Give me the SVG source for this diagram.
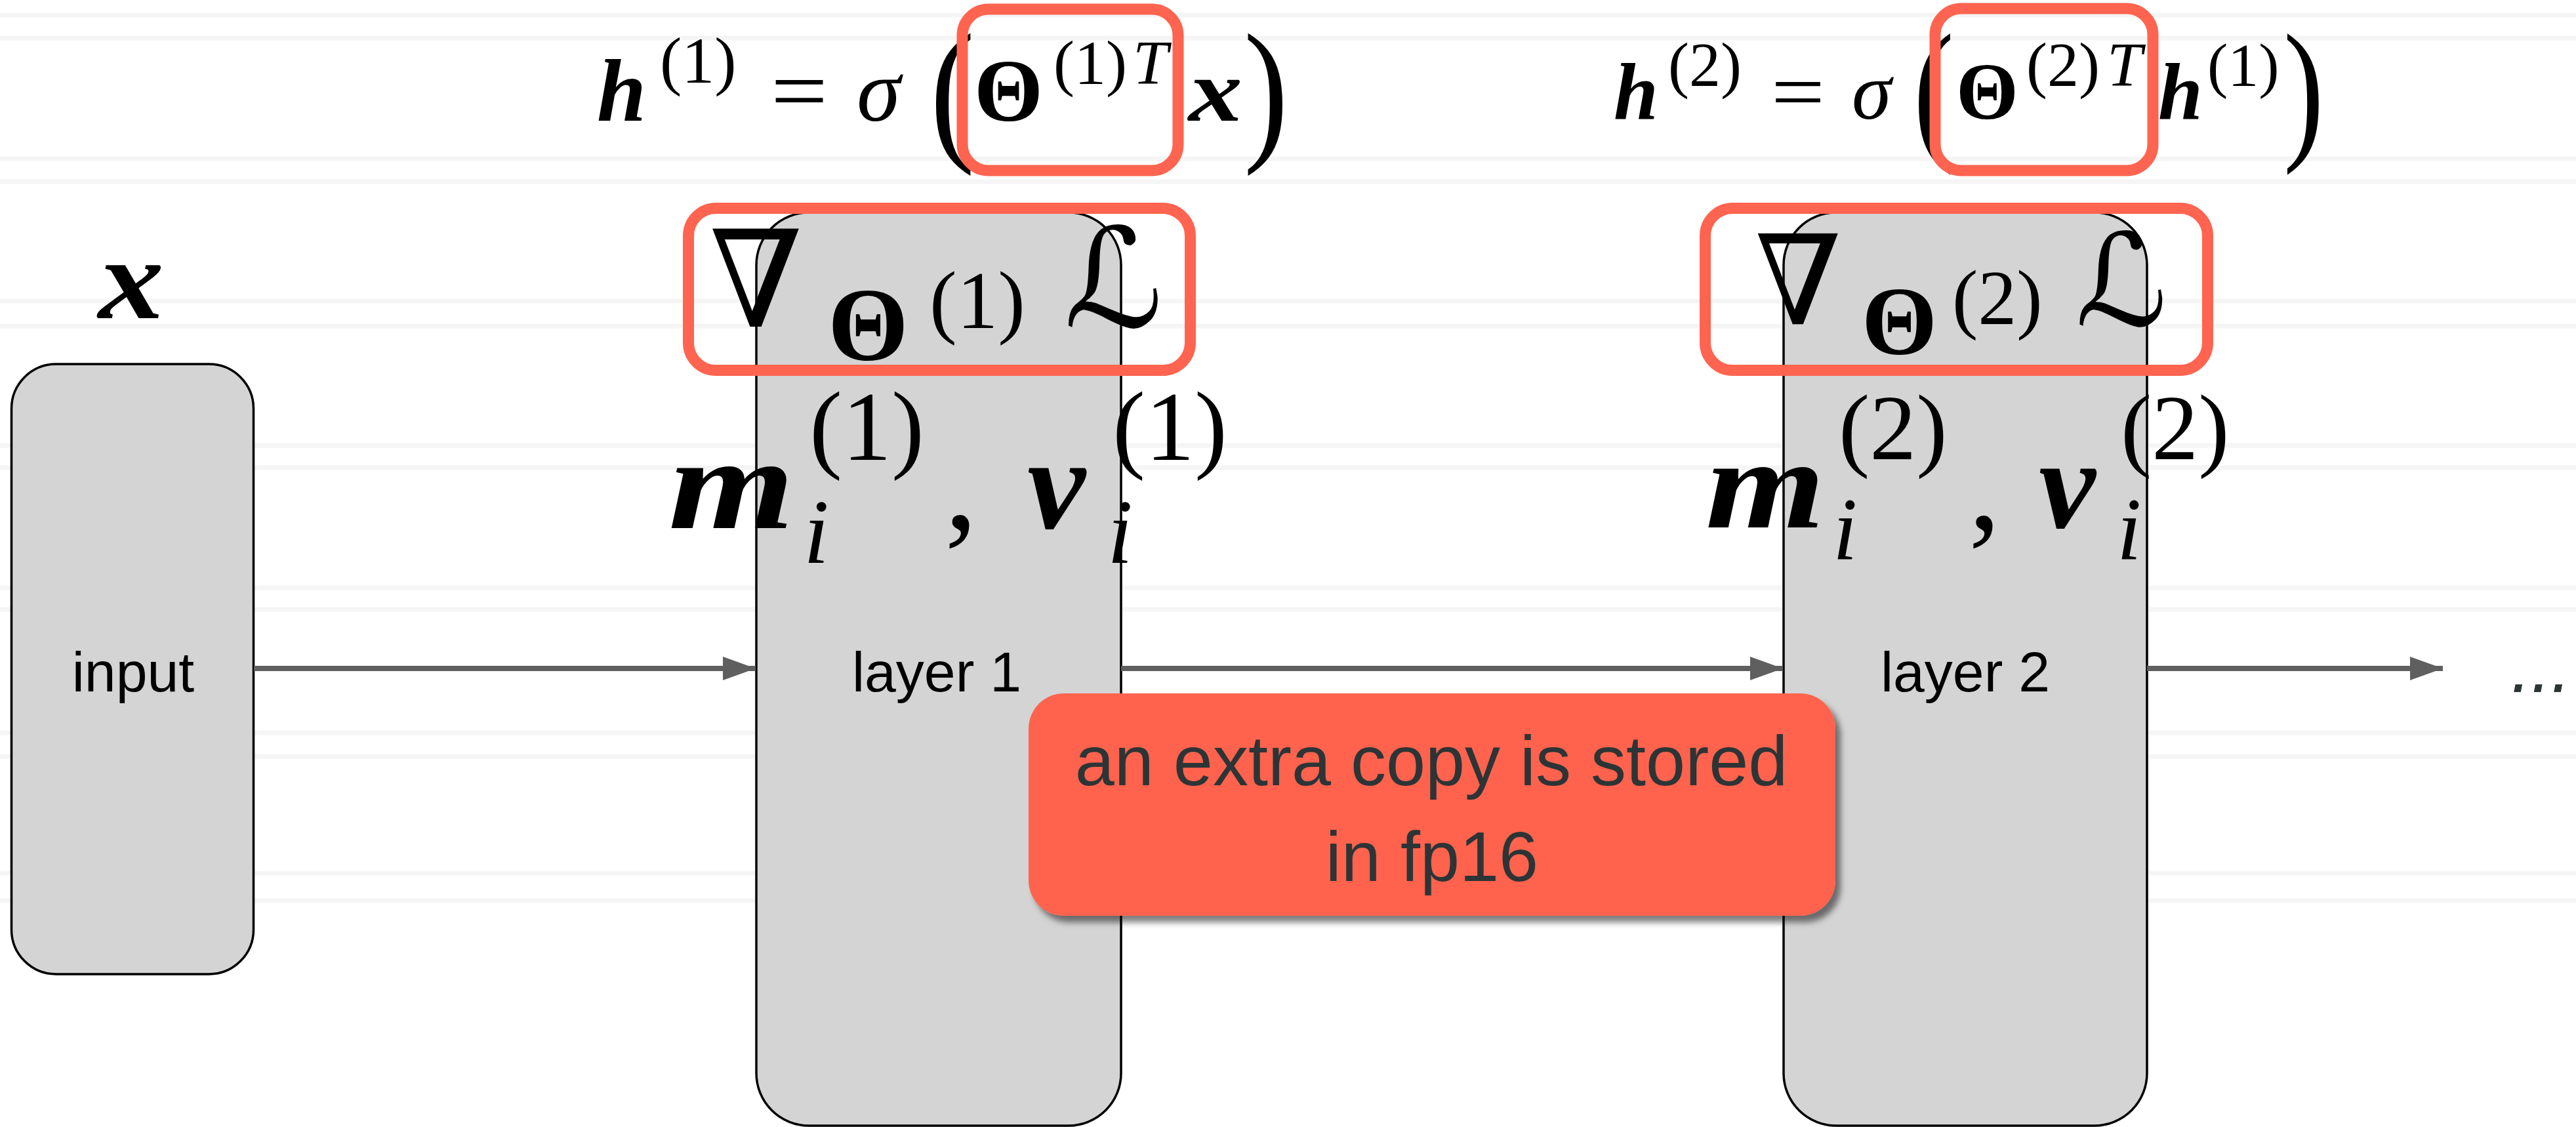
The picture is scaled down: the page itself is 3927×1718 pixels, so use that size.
<svg xmlns="http://www.w3.org/2000/svg" width="3927" height="1718" viewBox="0 0 3927 1718">
<defs>
<style>
.bgl{stroke:#f5f5f5;stroke-width:7;fill:none}
.box{fill:#d4d4d4;stroke:#000;stroke-width:3.5}
.conn{stroke:#5f5f5f;stroke-width:8;fill:none}
.hl{fill:none;stroke:#ff6450;stroke-width:17}
.lbl{font-family:"Liberation Sans",Arial,sans-serif;font-size:86px;fill:#000;text-anchor:middle}
.call{font-family:"Liberation Sans",Arial,sans-serif;font-size:108px;fill:#2d3436;text-anchor:middle}
.m{font-family:"Liberation Serif","Times New Roman",serif;fill:#000}
.bi{font-weight:bold;font-style:italic}
.it{font-style:italic}
.bd{font-weight:bold}
.sym{font-family:"DejaVu Serif","DejaVu Sans",serif;fill:#000}
</style>
<marker id="ah" viewBox="0 0 50 36" refX="50" refY="18" markerWidth="50" markerHeight="36" markerUnits="userSpaceOnUse" orient="auto">
<path d="M0,0 L50,18 L0,36 Z" fill="#5f5f5f"/>
</marker>
<filter id="sh" x="-10%" y="-20%" width="130%" height="150%">
<feDropShadow dx="8" dy="10" stdDeviation="5" flood-color="#000" flood-opacity="0.5"/>
</filter>
</defs>
<rect width="3927" height="1718" fill="#fff"/>
<g id="background">
<line class="bgl" x1="0" y1="23" x2="3927" y2="23"/>
<line class="bgl" x1="0" y1="58" x2="3927" y2="58"/>
<line class="bgl" x1="0" y1="242" x2="3927" y2="242"/>
<line class="bgl" x1="0" y1="277" x2="3927" y2="277"/>
<line class="bgl" x1="0" y1="459" x2="3927" y2="459"/>
<line class="bgl" x1="0" y1="497" x2="3927" y2="497"/>
<line class="bgl" x1="0" y1="679" x2="3927" y2="679"/>
<line class="bgl" x1="0" y1="713" x2="3927" y2="713"/>
<line class="bgl" x1="0" y1="896" x2="3927" y2="896"/>
<line class="bgl" x1="0" y1="929" x2="3927" y2="929"/>
<line class="bgl" x1="0" y1="1117" x2="3927" y2="1117"/>
<line class="bgl" x1="0" y1="1153" x2="3927" y2="1153"/>
<line class="bgl" x1="0" y1="1331" x2="3927" y2="1331"/>
<line class="bgl" x1="0" y1="1373" x2="3927" y2="1373"/>
</g>
<g id="input">
<rect class="box" x="17.5" y="555" width="369" height="930" rx="68"/>
<text class="lbl" x="203" y="1054">input</text>
<text class="m bi" x="150" y="485" font-size="175" textLength="100" lengthAdjust="spacingAndGlyphs">x</text>
</g>
<g id="layer1">
<rect class="box" x="1153" y="324" width="556" height="1392" rx="80"/>
<text class="lbl" x="1428" y="1054">layer 1</text>
</g>
<g id="layer2">
<rect class="box" x="2719" y="324" width="554" height="1392" rx="80"/>
<text class="lbl" x="2996" y="1054">layer 2</text>
</g>
<g id="connectors">
<line class="conn" x1="387" y1="1019" x2="1152" y2="1019" marker-end="url(#ah)"/>
<line class="conn" x1="1709" y1="1019" x2="2718" y2="1019" marker-end="url(#ah)"/>
<line class="conn" x1="3273" y1="1019" x2="3724" y2="1019" marker-end="url(#ah)"/>
</g>
<g id="ellipsis">
<text x="3828" y="1055" font-family="Liberation Sans, Arial, sans-serif" font-size="110" font-style="italic" fill="#2d3436">...</text>
</g>
<g id="formula1">
<text class="m bi" x="910" y="184" font-size="135">h</text>
<text class="m" x="1006" y="126" font-size="100">(1)</text>
<text class="m" x="1175" y="184" font-size="135" textLength="87" lengthAdjust="spacingAndGlyphs">=</text>
<text class="m it" x="1306" y="184" font-size="135">σ</text>
<text class="m" transform="translate(1418,217) scale(0.85,1)" font-size="240">(</text>
<text class="m bd" x="1485" y="184" font-size="135">Θ</text>
<text class="m" x="1606" y="128" font-size="96">(1)<tspan class="it" x="1727">T</tspan></text>
<text class="m bi" x="1812" y="184" font-size="135" textLength="82" lengthAdjust="spacingAndGlyphs">x</text>
<text class="m" transform="translate(1896,217) scale(0.85,1)" font-size="240">)</text>
</g>
<g id="formula2">
<text class="m bi" x="2460" y="181" font-size="122">h</text>
<text class="m" x="2543" y="131" font-size="96">(2)</text>
<text class="m" x="2700" y="181" font-size="122" textLength="82" lengthAdjust="spacingAndGlyphs">=</text>
<text class="m it" x="2823" y="181" font-size="122">σ</text>
<text class="m" transform="translate(2917,216) scale(0.78,1)" font-size="238">(</text>
<text class="m bd" x="2982" y="181" font-size="122">Θ</text>
<text class="m" x="3089" y="131" font-size="96">(2)<tspan class="it" x="3212">T</tspan></text>
<text class="m bi" x="3290" y="181" font-size="122">h</text>
<text class="m" x="3365" y="131" font-size="94">(1)</text>
<text class="m" transform="translate(3481,216) scale(0.78,1)" font-size="238">)</text>
</g>
<g id="grad1">
<text class="sym" x="1081" y="498" font-size="205">∇</text>
<text class="m bd" x="1262" y="548" font-size="158">Θ</text>
<text class="m" x="1417" y="500" font-size="125">(1)</text>
<text class="sym" x="1622" y="498" font-size="210" font-style="italic">ℒ</text>
</g>
<g id="grad2">
<text class="sym" x="2675" y="494" font-size="190">∇</text>
<text class="m bd" x="2838" y="540" font-size="148">Θ</text>
<text class="m" x="2976" y="494" font-size="118">(2)</text>
<text class="sym" x="3164" y="496" font-size="195" font-style="italic">ℒ</text>
</g>
<g id="moments1">
<text class="m bi" x="1019" y="805" font-size="200" textLength="192" lengthAdjust="spacingAndGlyphs">m</text>
<text class="m it" x="1225" y="858" font-size="140">i</text>
<text class="m" x="1234" y="701" font-size="150">(1)</text>
<text class="m" x="1440" y="806" font-size="200">,</text>
<text class="m bi" x="1566" y="805" font-size="200">v</text>
<text class="m it" x="1688" y="858" font-size="140">i</text>
<text class="m" x="1696" y="701" font-size="150">(1)</text>
</g>
<g id="moments2">
<text class="m bi" x="2600" y="804" font-size="195" textLength="182" lengthAdjust="spacingAndGlyphs">m</text>
<text class="m it" x="2794" y="853" font-size="135">i</text>
<text class="m" x="2803" y="700" font-size="142">(2)</text>
<text class="m" x="3001" y="806" font-size="195">,</text>
<text class="m bi" x="3108" y="804" font-size="195">v</text>
<text class="m it" x="3227" y="853" font-size="135">i</text>
<text class="m" x="3233" y="700" font-size="142">(2)</text>
</g>
<g id="highlights">
<rect class="hl" x="1467" y="14" width="329" height="246" rx="40"/>
<rect class="hl" x="1049.5" y="317.5" width="765" height="247" rx="42"/>
<rect class="hl" x="2950" y="13" width="332" height="247" rx="40"/>
<rect class="hl" x="2599.5" y="317.5" width="766" height="247" rx="42"/>
</g>
<g id="callout">
<rect x="1568" y="1057" width="1230" height="339" rx="54" fill="#ff644e" filter="url(#sh)"/>
<text class="call" x="2182" y="1197">an extra copy is stored</text>
<text class="call" x="2183" y="1343">in fp16</text>
</g>
</svg>
